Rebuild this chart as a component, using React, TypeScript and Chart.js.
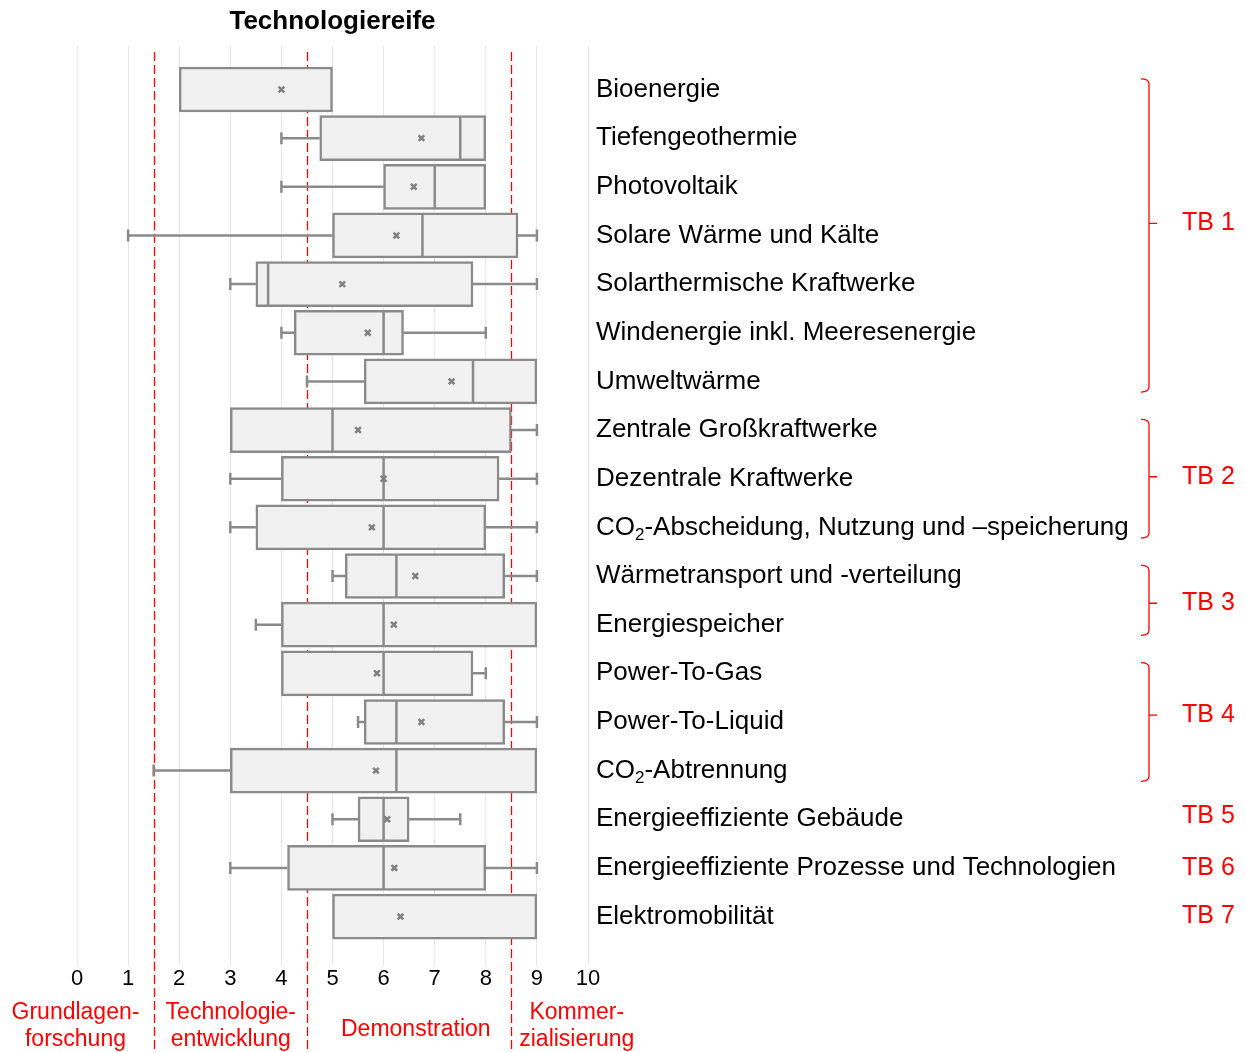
import React, { useEffect, useRef } from 'react';
import { Chart, registerables } from 'chart.js';

Chart.register(...registerables);

const categories = [
  'Bioenergie',
  'Tiefengeothermie',
  'Photovoltaik',
  'Solare Wärme und Kälte',
  'Solarthermische Kraftwerke',
  'Windenergie inkl. Meeresenergie',
  'Umweltwärme',
  'Zentrale Großkraftwerke',
  'Dezentrale Kraftwerke',
  'CO₂-Abscheidung, Nutzung und –speicherung',
  'Wärmetransport und -verteilung',
  'Energiespeicher',
  'Power-To-Gas',
  'Power-To-Liquid',
  'CO₂-Abtrennung',
  'Energieeffiziente Gebäude',
  'Energieeffiziente Prozesse und Technologien',
  'Elektromobilität',
];

const whiskerMin: (number | null)[] = [null, 4, 4, 1, 3, 4, 4.5, null, 3, 3, 5, 3.5, null, 5.5, 1.5, 5, 3, null];
const q1 = [2, 4.75, 6, 5, 3.5, 4.25, 5.62, 3, 4, 3.5, 5.25, 4, 4, 5.62, 3, 5.5, 4.12, 5];
const median: (number | null)[] = [null, 7.5, 7, 6.76, 3.74, 6, 7.75, 5, 6, 6, 6.25, 6, 6, 6.25, 6.25, 6, 6, null];
const q3 = [5, 8, 8, 8.63, 7.75, 6.39, 9, 8.5, 8.26, 8, 8.37, 9, 7.75, 8.37, 9, 6.5, 8, 9];
const whiskerMax: (number | null)[] = [null, null, null, 9, 9, 8, null, 9, 9, 9, 9, null, 8, 9, null, 7.5, 9, null];
const mean = [4, 6.74, 6.59, 6.25, 5.19, 5.69, 7.33, 5.5, 6, 5.77, 6.62, 6.2, 5.87, 6.74, 5.85, 6.07, 6.21, 6.33];

const xMin = 0;
const xMax = 10;

const phaseBounds = [1.5, 4.5, 8.5];
const phaseLabels = [['Grundlagen-', 'forschung'], ['Technologie-', 'entwicklung'], ['Demonstration'], ['Kommer-', 'zialisierung']];
const phaseCenters = [-0.03, 3.01, 6.63, 9.78];

const groupLabels = ['TB 1', 'TB 2', 'TB 3', 'TB 4', 'TB 5', 'TB 6', 'TB 7'];
const groupFirst = [0, 7, 10, 12, 15, 16, 17];
const groupLast = [6, 9, 11, 14, 15, 16, 17];
const groupAnchor = [2.75, 7.96, 10.56, 12.86, 14.94, 16, 17];

const chartTitle = 'Technologiereife';

const FONT = '"Liberation Sans", Arial, sans-serif';
const GRAY = '#8a8a8a';
const RED = '#ff0000';

function drawLabel(ctx: CanvasRenderingContext2D, text: string, x: number, y: number, size: number) {
  const parts = text.split('₂');
  ctx.font = `${size}px ${FONT}`;
  ctx.textAlign = 'left';
  ctx.textBaseline = 'middle';
  let cx = x;
  parts.forEach((p, k) => {
    if (k > 0) {
      ctx.font = `${Math.round(size * 0.65)}px ${FONT}`;
      ctx.fillText('2', cx, y + 8);
      cx += ctx.measureText('2').width;
      ctx.font = `${size}px ${FONT}`;
    }
    ctx.fillText(p, cx, y);
    cx += ctx.measureText(p).width;
  });
}

const overlay = {
  id: 'overlay',
  beforeDatasetsDraw(chart: any) {
    const { ctx, chartArea } = chart;
    const x = chart.scales.x;
    const y = chart.scales.y;
    ctx.save();
    ctx.strokeStyle = RED;
    ctx.lineWidth = 1.3;
    ctx.setLineDash([9, 4]);
    phaseBounds.forEach((v) => {
      const px = Math.round(x.getPixelForValue(v)) + 0.5;
      ctx.beginPath();
      ctx.moveTo(px, chartArea.top + 6);
      ctx.lineTo(px, chart.height);
      ctx.stroke();
    });
    ctx.setLineDash([]);
    ctx.strokeStyle = GRAY;
    ctx.lineWidth = 2.5;
    categories.forEach((_, i) => {
      const py = y.getPixelForValue(i);
      const seg = (a: number, b: number) => {
        const pa = x.getPixelForValue(a);
        const pb = x.getPixelForValue(b);
        ctx.beginPath();
        ctx.moveTo(pa, py);
        ctx.lineTo(pb, py);
        ctx.moveTo(pa, py - 6);
        ctx.lineTo(pa, py + 6);
        ctx.stroke();
      };
      const lo = whiskerMin[i];
      const hi = whiskerMax[i];
      if (lo != null) seg(lo, q1[i]);
      if (hi != null) seg(hi, q3[i]);
    });
    ctx.restore();
  },
  afterDraw(chart: any) {
    const { ctx, chartArea } = chart;
    const x = chart.scales.x;
    const y = chart.scales.y;
    ctx.save();
    // title
    ctx.fillStyle = '#000';
    ctx.font = `bold 26px ${FONT}`;
    ctx.textAlign = 'center';
    ctx.textBaseline = 'middle';
    ctx.fillText(chartTitle, (chartArea.left + chartArea.right) / 2, chartArea.top - 24);
    // category labels
    categories.forEach((c, i) => {
      ctx.fillStyle = '#000';
      drawLabel(ctx, c, chartArea.right + 8, y.getPixelForValue(i), 26);
    });
    // brackets
    const bx = chartArea.right + 561;
    ctx.strokeStyle = RED;
    ctx.lineWidth = 1.3;
    groupLabels.forEach((g, k) => {
      const pm = y.getPixelForValue(groupAnchor[k]);
      if (groupLast[k] > groupFirst[k]) {
        const pt = y.getPixelForValue(groupFirst[k] - 0.22);
        const pb = y.getPixelForValue(groupLast[k] + 0.22);
        ctx.beginPath();
        ctx.moveTo(bx - 8, pt);
        ctx.quadraticCurveTo(bx, pt, bx, pt + 5);
        ctx.lineTo(bx, pb - 5);
        ctx.quadraticCurveTo(bx, pb, bx - 8, pb);
        ctx.moveTo(bx, pm);
        ctx.lineTo(bx + 8, pm);
        ctx.stroke();
      }
      ctx.fillStyle = RED;
      ctx.font = `25px ${FONT}`;
      ctx.textAlign = 'left';
      ctx.textBaseline = 'middle';
      ctx.fillText(g, bx + 33, pm);
    });
    // phase labels
    ctx.fillStyle = RED;
    ctx.font = `23px ${FONT}`;
    ctx.textAlign = 'center';
    ctx.textBaseline = 'alphabetic';
    phaseLabels.forEach((lines, k) => {
      const px = x.getPixelForValue(phaseCenters[k]);
      if (lines.length === 1) {
        ctx.fillText(lines[0], px, chartArea.bottom + 70);
      } else {
        lines.forEach((l, j) => ctx.fillText(l, px, chartArea.bottom + 53 + j * 27));
      }
    });
    ctx.restore();
  },
};

export default function App() {
  const ref = useRef<HTMLCanvasElement | null>(null);
  useEffect(() => {
    document.body.style.margin = '0';
    const canvas = ref.current;
    if (!canvas) return;
    const chart = new Chart(canvas, {
      type: 'bar',
      data: {
        datasets: [
          {
            type: 'bar',
            data: categories.map((_, i) => ({ y: i, x: [q1[i], q3[i]] })) as any,
            backgroundColor: '#f1f1f1',
            borderColor: GRAY,
            borderWidth: 2.5,
            borderSkipped: false,
            barThickness: 45,
            order: 3,
          } as any,
          {
            type: 'scatter',
            data: categories
              .map((_, i) => (median[i] == null ? null : { x: median[i], y: i }))
              .filter((d) => d !== null) as any,
            pointStyle: 'line',
            rotation: 90,
            radius: 21,
            borderColor: GRAY,
            borderWidth: 2.5,
            order: 2,
          } as any,
          {
            type: 'scatter',
            data: categories.map((_, i) => ({ x: mean[i], y: i })) as any,
            pointStyle: 'crossRot',
            radius: 4,
            borderColor: '#808080',
            borderWidth: 2.5,
            order: 1,
          } as any,
        ],
      },
      options: {
        indexAxis: 'y',
        responsive: false,
        animation: false,
        layout: { padding: { left: 77, right: 658, top: 46, bottom: 0 } },
        plugins: { legend: { display: false }, tooltip: { enabled: false }, title: { display: false } },
        scales: {
          x: {
            type: 'linear',
            min: xMin,
            max: xMax,
            position: 'bottom',
            offset: false,
            ticks: { stepSize: 1, color: '#000', font: { family: FONT, size: 22 }, padding: 0 },
            grid: { color: '#e6e6e6', lineWidth: 1, drawTicks: false, offset: false },
            border: { display: false },
            afterFit: (s: any) => {
              s.height = 86;
            },
          },
          y: {
            type: 'linear',
            reverse: true,
            offset: false,
            min: -0.894,
            max: 18.016,
            display: false,
            grid: { display: false, offset: false },
          },
        },
      } as any,
      plugins: [overlay],
    });
    return () => chart.destroy();
  }, []);
  return <canvas ref={ref} width={1246} height={1052} style={{ display: 'block' }} />;
}
